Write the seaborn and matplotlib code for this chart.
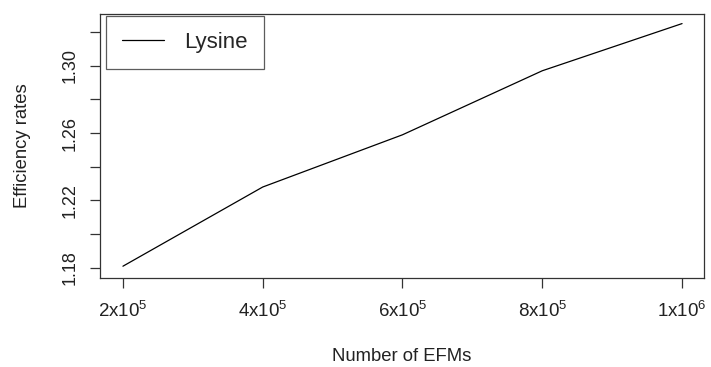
import matplotlib
matplotlib.use('Agg')
import matplotlib.pyplot as plt
import seaborn as sns
import pandas as pd

# values
efms = [2e5, 4e5, 6e5, 8e5, 1e6]
rates = [1.181, 1.228, 1.259, 1.297, 1.325]
series = 'Lysine'

x_ticks = [2e5, 4e5, 6e5, 8e5, 1e6]
x_labels = [r'$\mathregular{2x10^5}$', r'$\mathregular{4x10^5}$', r'$\mathregular{6x10^5}$',
            r'$\mathregular{8x10^5}$', r'$\mathregular{1x10^6}$']
y_ticks = [1.18, 1.20, 1.22, 1.24, 1.26, 1.28, 1.30, 1.32]
y_labels = ['1.18', '', '1.22', '', '1.26', '', '1.30', '']

df = pd.DataFrame({'efms': efms, 'rate': rates, 'series': series})

sns.set_style('ticks')
plt.rcParams['font.family'] = ['Liberation Sans', 'DejaVu Sans']
plt.rcParams['mathtext.fontset'] = 'custom'
plt.rcParams['mathtext.rm'] = 'Liberation Sans'

fig = plt.figure(figsize=(7.11, 3.67), dpi=100)
ax = fig.add_axes([0.1406, 0.2425, 0.8496, 0.7194])

sns.lineplot(data=df, x='efms', y='rate', hue='series', palette=['black'],
             linewidth=0.9, ax=ax)

ax.set_xlim(167143, 1031429)
ax.set_ylim(1.174, 1.3307)
ax.set_xticks(x_ticks)
ax.set_xticklabels(x_labels, fontsize=13.5)
ax.set_yticks(y_ticks)
ax.set_yticklabels(y_labels, fontsize=13, rotation=90, va='center')
ax.tick_params(axis='both', length=7.2, width=0.9, color='#333333', labelcolor='#222222')
ax.tick_params(axis='x', pad=9)
ax.tick_params(axis='y', pad=8.5)

for s in ax.spines.values():
    s.set_visible(True)
    s.set_linewidth(0.9)
    s.set_color('#333333')

ax.set_xlabel('Number of EFMs', fontsize=13.3, color='#222222', labelpad=20)
ax.set_ylabel('Efficiency rates', fontsize=13.3, color='#222222', labelpad=22)

leg = ax.legend(loc='upper left', bbox_to_anchor=(0.01, 0.993), borderaxespad=0,
                fontsize=16, frameon=True, fancybox=False, borderpad=0.72,
                handlelength=1.9, handletextpad=0.9)
leg.get_frame().set_edgecolor('#333333')
leg.get_frame().set_linewidth(0.9)

fig.savefig('out.png', dpi=100)
